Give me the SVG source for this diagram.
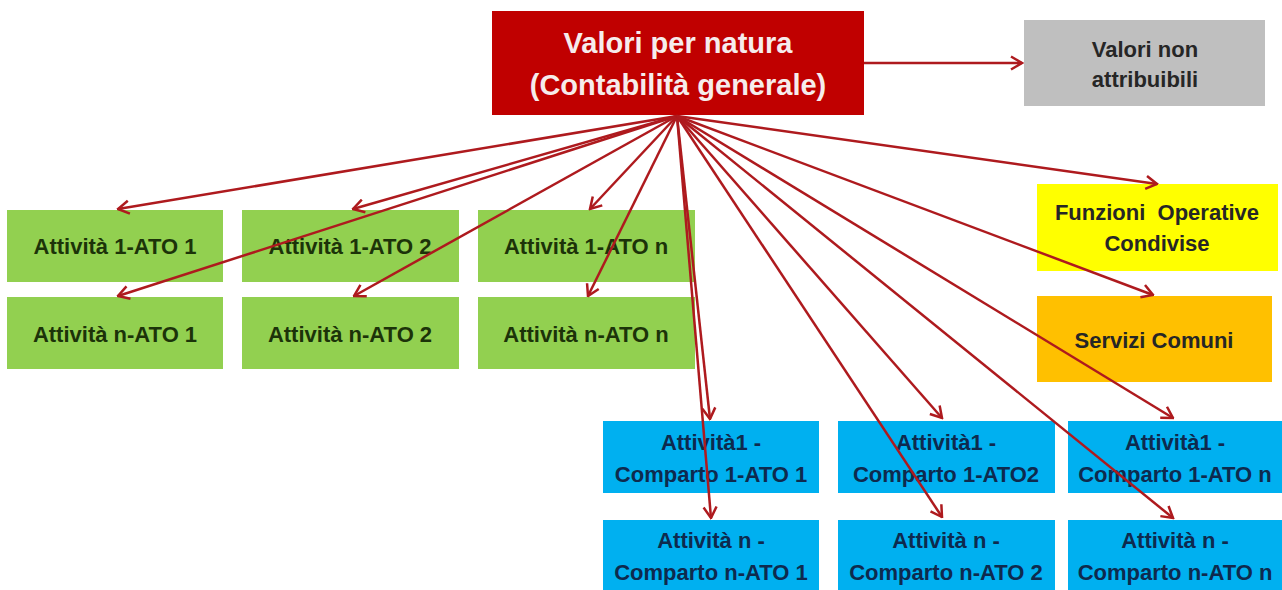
<svg xmlns="http://www.w3.org/2000/svg" width="1282" height="590" viewBox="0 0 1282 590">
<style>
  text { font-family: "Liberation Sans", Arial, sans-serif; font-weight: bold; text-anchor: middle; }
  .t22 { font-size: 22px; }
  .title { font-size: 29px; fill: #F6ECEC; }
  .green rect { fill: #92D050; }
  .green text { fill: #1C3309; }
  .blue rect { fill: #00B0F0; }
  .blue text { fill: #0E2A4E; }
  .dark { fill: #262626; }
  .conn { stroke: #AE1A1E; stroke-width: 2.5; fill: none; marker-end: url(#arr); }
</style>
<defs>
  <marker id="arr" viewBox="0 0 14 16" refX="12.5" refY="8" markerWidth="14" markerHeight="16" markerUnits="userSpaceOnUse" orient="auto">
    <path d="M1.5,1.5 L12.5,8 L1.5,14.5" fill="none" stroke="#AE1A1E" stroke-width="2.5" stroke-linejoin="miter"/>
  </marker>
</defs>
<rect width="1282" height="590" fill="#FFFFFF"/>

<g id="valori-natura">
  <rect x="492" y="11" width="372" height="104" fill="#C00000"/>
  <text class="title" x="678" y="53">Valori per natura</text>
  <text class="title" x="678" y="95">(Contabilità generale)</text>
</g>

<g id="valori-non-attribuibili">
  <rect x="1024" y="20" width="241" height="86" fill="#BFBFBF"/>
  <text class="t22 dark" x="1145" y="57">Valori non</text>
  <text class="t22 dark" x="1145" y="87">attribuibili</text>
</g>

<g id="funzioni-operative">
  <rect x="1037" y="184" width="241" height="87" fill="#FFFF00"/>
  <text class="t22 dark" x="1157" y="220" xml:space="preserve">Funzioni  Operative</text>
  <text class="t22 dark" x="1157" y="251">Condivise</text>
</g>

<g id="servizi-comuni">
  <rect x="1037" y="296" width="235" height="86" fill="#FFC000"/>
  <text class="t22 dark" x="1154" y="348">Servizi Comuni</text>
</g>

<g id="att1-ato1" class="green">
  <rect x="7" y="210" width="216" height="72"/>
  <text class="t22" x="115" y="254">Attività 1-ATO 1</text>
</g>
<g id="att1-ato2" class="green">
  <rect x="242" y="210" width="217" height="72"/>
  <text class="t22" x="350" y="254">Attività 1-ATO 2</text>
</g>
<g id="att1-aton" class="green">
  <rect x="478" y="210" width="217" height="72"/>
  <text class="t22" x="586" y="254">Attività 1-ATO n</text>
</g>
<g id="attn-ato1" class="green">
  <rect x="7" y="297" width="216" height="72"/>
  <text class="t22" x="115" y="342">Attività n-ATO 1</text>
</g>
<g id="attn-ato2" class="green">
  <rect x="242" y="297" width="217" height="72"/>
  <text class="t22" x="350" y="342">Attività n-ATO 2</text>
</g>
<g id="attn-aton" class="green">
  <rect x="478" y="297" width="217" height="72"/>
  <text class="t22" x="586" y="342">Attività n-ATO n</text>
</g>

<g id="att1-comp1-ato1" class="blue">
  <rect x="603" y="421" width="216" height="72"/>
  <text class="t22" x="711" y="450">Attività1 -</text>
  <text class="t22" x="711" y="482">Comparto 1-ATO 1</text>
</g>
<g id="att1-comp1-ato2" class="blue">
  <rect x="838" y="421" width="217" height="72"/>
  <text class="t22" x="946" y="450">Attività1 -</text>
  <text class="t22" x="946" y="482">Comparto 1-ATO2</text>
</g>
<g id="att1-comp1-aton" class="blue">
  <rect x="1068" y="421" width="216" height="72"/>
  <text class="t22" x="1175" y="450">Attività1 -</text>
  <text class="t22" x="1175" y="482">Comparto 1-ATO n</text>
</g>
<g id="attn-compn-ato1" class="blue">
  <rect x="603" y="520" width="216" height="72"/>
  <text class="t22" x="711" y="548">Attività n -</text>
  <text class="t22" x="711" y="580">Comparto n-ATO 1</text>
</g>
<g id="attn-compn-ato2" class="blue">
  <rect x="838" y="520" width="217" height="72"/>
  <text class="t22" x="946" y="548">Attività n -</text>
  <text class="t22" x="946" y="580">Comparto n-ATO 2</text>
</g>
<g id="attn-compn-aton" class="blue">
  <rect x="1068" y="520" width="216" height="72"/>
  <text class="t22" x="1175" y="548">Attività n -</text>
  <text class="t22" x="1175" y="580">Comparto n-ATO n</text>
</g>

<g id="connectors">
  <line class="conn" x1="864" y1="63" x2="1022" y2="63"/>
  <line class="conn" x1="677" y1="116" x2="118" y2="209"/>
  <line class="conn" x1="677" y1="116" x2="118" y2="296"/>
  <line class="conn" x1="677" y1="116" x2="353" y2="209"/>
  <line class="conn" x1="677" y1="116" x2="354" y2="296"/>
  <line class="conn" x1="677" y1="116" x2="590" y2="209"/>
  <line class="conn" x1="677" y1="116" x2="588" y2="296"/>
  <line class="conn" x1="677" y1="116" x2="710" y2="419"/>
  <line class="conn" x1="677" y1="116" x2="711" y2="518"/>
  <line class="conn" x1="677" y1="116" x2="942" y2="418"/>
  <line class="conn" x1="677" y1="116" x2="942" y2="517"/>
  <line class="conn" x1="677" y1="116" x2="1173" y2="418"/>
  <line class="conn" x1="677" y1="116" x2="1173" y2="518"/>
  <line class="conn" x1="677" y1="116" x2="1157" y2="184"/>
  <line class="conn" x1="677" y1="116" x2="1153" y2="295"/>
</g>
</svg>
